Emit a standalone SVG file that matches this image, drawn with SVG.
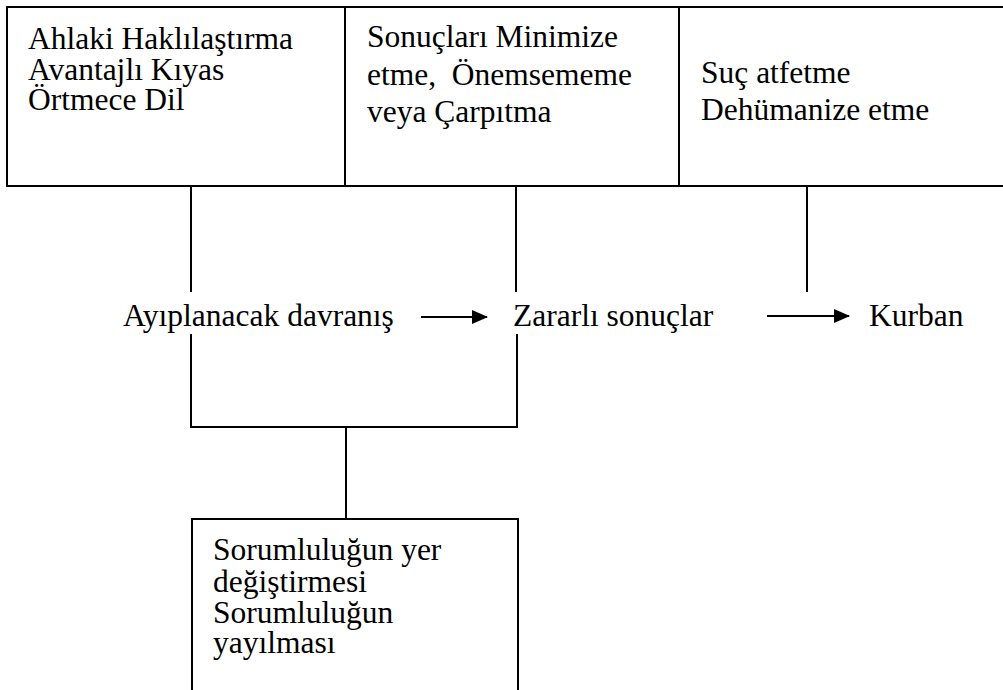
<svg xmlns="http://www.w3.org/2000/svg" width="1003" height="690" viewBox="0 0 1003 690">
<style>
.t{font-family:'Liberation Serif','Times New Roman',Tinos,'DejaVu Serif',serif;font-size:31.5px;fill:#000}
.box{fill:#fff;stroke:#000;stroke-width:2}
.ln{fill:none;stroke:#000;stroke-width:2}
</style>
<defs>
<marker id="ah" markerUnits="userSpaceOnUse" markerWidth="16" markerHeight="14" refX="15" refY="7" orient="auto">
<path d="M0,0 L16,7 L0,14 Z" fill="#000"/>
</marker>
</defs>
<rect width="1003" height="690" fill="#fff"/>
<g class="t" font-family="Liberation Serif, Times New Roman, serif" font-size="31.5">
<g id="top-left">
<rect class="box" x="7" y="7" width="338" height="179"/>
<text x="28" y="48.5">Ahlaki Haklılaştırma</text>
<text x="28" y="79.5">Avantajlı Kıyas</text>
<text x="28" y="110">Örtmece Dil</text>
</g>
<g id="top-middle">
<rect class="box" x="345" y="7" width="334" height="179"/>
<text x="367" y="47">Sonuçları Minimize</text>
<text x="367" y="85" xml:space="preserve">etme,  Önemsememe</text>
<text x="367" y="122">veya Çarpıtma</text>
</g>
<g id="top-right">
<rect class="box" x="679" y="7" width="340" height="179"/>
<text x="701" y="83">Suç atfetme</text>
<text x="701" y="120">Dehümanize etme</text>
</g>
<g id="behavior"><text x="123" y="326">Ayıplanacak davranış</text></g>
<g id="consequences"><text x="513" y="326">Zararlı sonuçlar</text></g>
<g id="victim"><text x="869" y="326">Kurban</text></g>
<g id="bottom">
<rect class="box" x="192" y="519" width="326" height="190"/>
<text x="213" y="560">Sorumluluğun yer</text>
<text x="213" y="592">değiştirmesi</text>
<text x="213" y="623">Sorumluluğun</text>
<text x="213" y="653">yayılması</text>
</g>
</g>
<g id="connectors">
<line class="ln" x1="191" y1="186" x2="191" y2="292"/>
<line class="ln" x1="516" y1="186" x2="516" y2="292"/>
<line class="ln" x1="807" y1="186" x2="807" y2="292"/>
<polyline class="ln" points="191,334 191,427 517,427 517,334"/>
<line class="ln" x1="346" y1="427" x2="346" y2="519"/>
<line class="ln" x1="421" y1="317" x2="487" y2="317" marker-end="url(#ah)"/>
<line class="ln" x1="767" y1="316" x2="849" y2="316" marker-end="url(#ah)"/>
</g>
</svg>
